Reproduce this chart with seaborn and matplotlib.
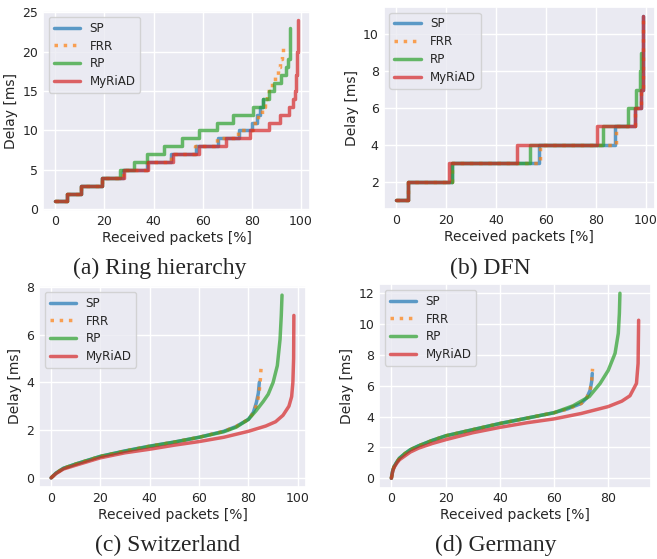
import matplotlib
matplotlib.use("Agg")
import matplotlib.pyplot as plt
import seaborn as sns

W, H = 657, 559

series_names = ["SP", "FRR", "RP", "MyRiAD"]
series_colors = ["#1f77b4", "#ff7f0e", "#2ca02c", "#d62728"]

# (a) Ring hierarchy - step curves
ring_sp_x = [0, 4.7, 10.7, 19, 27.5, 37.3, 47.2, 57.4, 66.4, 74.8, 80.2, 81.9, 83.2, 84.6]
ring_sp_y = [1, 2, 3, 4, 5, 6, 7, 8, 9, 10, 11, 12, 13, 14]
ring_frr_x = [0, 4.7, 10.7, 19, 27.5, 37.3, 47.2, 56.8, 66.0, 74.5, 80.5, 82.5, 84.3, 85.2, 86.0,
              88.0, 89.5, 90.8, 91.6, 92.1, 92.5]
ring_frr_y = [1, 2, 3, 4, 5, 6, 7, 8, 9, 10, 11, 12, 13, 14, 15, 16, 17, 18, 19, 20, 21]
ring_rp_x = [0, 4.7, 10.7, 19, 26.2, 32.2, 37.2, 44.3, 51.7, 58.7, 65.8, 72.5, 80.5, 84.5, 87,
             89, 92, 93.7, 94.6, 95.3]
ring_rp_y = [1, 2, 3, 4, 5, 6, 7, 8, 9, 10, 11, 12, 13, 14, 15, 16, 17, 18, 19, 23]
ring_my_x = [0, 4.7, 10.7, 19, 28, 37.6, 48, 58.7, 69.5, 79.2, 87, 91.3, 95, 96.6, 97.7, 98.1,
             98.4, 98.7]
ring_my_y = [1, 2, 3, 4, 5, 6, 7, 8, 9, 10, 11, 12, 13, 14, 15, 17, 20, 24]

# (b) DFN - step curves
dfn_sp_x = [0, 4.7, 22.4, 57.3, 87.5, 95.5, 98.0, 98.7]
dfn_sp_y = [1, 2, 3, 4, 5, 6, 7, 11]
dfn_frr_x = [0, 4.7, 22.4, 57.7, 88.1, 95.5, 98.0, 98.7]
dfn_frr_y = [1, 2, 3, 4, 5, 6, 7, 11]
dfn_rp_x = [0, 4.7, 22.4, 53.5, 82.8, 92.8, 96.1, 97.5, 98.1]
dfn_rp_y = [1, 2, 3, 4, 5, 6, 7, 8, 9]
dfn_my_x = [0, 4.7, 21.1, 48.4, 80.4, 95.5, 98.0, 98.7]
dfn_my_y = [1, 2, 3, 4, 5, 6, 7, 11]

# (c) Switzerland
ch_sp_x = [0, 2, 5, 10, 20, 30, 40, 50, 60, 70, 75, 80, 82, 83.2, 84, 84.4]
ch_sp_y = [0, 0.2, 0.4, 0.58, 0.9, 1.13, 1.33, 1.5, 1.7, 1.95, 2.15, 2.45, 2.75, 3.15, 3.55, 4.0]
ch_frr_x = [0, 2, 5, 10, 20, 30, 40, 50, 60, 70, 75, 80, 82, 83.5, 84.3, 84.8, 85.1]
ch_frr_y = [0, 0.2, 0.4, 0.58, 0.9, 1.13, 1.33, 1.5, 1.7, 1.95, 2.15, 2.45, 2.72, 3.1, 3.55, 4.1, 4.6]
ch_rp_x = [0, 2, 5, 10, 20, 30, 40, 50, 60, 70, 75, 80, 83, 86, 88, 90, 91.7, 92.8, 93.3, 93.6]
ch_rp_y = [0, 0.2, 0.4, 0.58, 0.9, 1.12, 1.32, 1.5, 1.7, 1.93, 2.12, 2.45, 2.8, 3.2, 3.5, 4.0,
           4.7, 5.8, 6.8, 7.65]
ch_my_x = [0, 2, 5, 10, 20, 30, 40, 50, 60, 70, 80, 87, 91, 94, 96.4, 97.5, 98, 98.3, 98.4]
ch_my_y = [0, 0.18, 0.37, 0.53, 0.84, 1.05, 1.2, 1.37, 1.52, 1.7, 1.95, 2.17, 2.35, 2.62, 3.0,
           3.4, 4.0, 5.0, 6.8]

# (d) Germany
de_sp_x = [0, 0.5, 1, 2, 3, 5, 7, 10, 15, 20, 30, 40, 50, 60, 65, 70, 72, 73.3, 73.9, 74.1]
de_sp_y = [0, 0.5, 0.75, 1.05, 1.3, 1.6, 1.85, 2.1, 2.45, 2.75, 3.15, 3.55, 3.9, 4.25, 4.5,
           4.85, 5.2, 5.7, 6.3, 6.8]
de_frr_x = [0, 0.5, 1, 2, 3, 5, 7, 10, 15, 20, 30, 40, 50, 60, 65, 70, 72, 73.3, 73.9, 74.2]
de_frr_y = [0, 0.5, 0.75, 1.05, 1.3, 1.6, 1.85, 2.1, 2.45, 2.75, 3.15, 3.55, 3.9, 4.25, 4.5,
            4.85, 5.2, 5.7, 6.4, 7.1]
de_rp_x = [0, 0.5, 1, 2, 3, 5, 7, 10, 15, 20, 30, 40, 50, 60, 67, 73, 77, 80, 82.5, 83.7,
           84.1, 84.3]
de_rp_y = [0, 0.5, 0.75, 1.05, 1.3, 1.6, 1.85, 2.1, 2.45, 2.75, 3.15, 3.55, 3.9, 4.25, 4.7,
           5.3, 6.15, 7.0, 8.1, 9.4, 10.7, 12]
de_my_x = [0, 0.5, 1, 2, 3, 5, 7, 10, 15, 20, 30, 40, 50, 60, 70, 80, 85, 88, 90.4, 91, 91.2]
de_my_y = [0, 0.45, 0.7, 0.98, 1.2, 1.45, 1.7, 1.95, 2.25, 2.5, 2.95, 3.3, 3.6, 3.85, 4.2,
           4.65, 5.0, 5.35, 6.15, 7.45, 10.25]

captions = ["(a) Ring hierarchy", "(b) DFN", "(c) Switzerland", "(d) Germany"]


def px_rect(left, top, right, bottom):
    """ convert a pixel box into a figure rect """
    return [left / W, 1 - bottom / H, (right - left) / W, (bottom - top) / H]


def draw_panel(ax, curves, steps):
    """ draw the four delay curves of one topology
    :param ax: axes
    :param curves: list of (x, y) per series
    :param steps: draw as step function
    """
    for name, color, (x, y) in zip(series_names, series_colors, curves):
        kws = dict(color=color, lw=2.5, alpha=0.7, label=name)
        if steps:
            kws["drawstyle"] = "steps-post"
        if name == "FRR":
            kws["linestyle"] = ":"
        sns.lineplot(x=x, y=y, ax=ax, estimator=None, sort=False, **kws)
    ax.set_xlabel("Received packets [%]", labelpad=2)
    ax.set_ylabel("Delay [ms]", labelpad=3)
    ax.legend(loc="upper left", labelspacing=0.4, handlelength=2.2)


sns.set_theme(style="darkgrid", rc={
    "xtick.labelsize": 9.0, "ytick.labelsize": 9.0,
    "axes.labelsize": 10.0, "legend.fontsize": 8.6,
    "xtick.major.size": 0, "ytick.major.size": 0,
    "xtick.major.pad": 3.5, "ytick.major.pad": 3.5,
})
plt.rcParams["font.family"] = ["DejaVu Sans"]

fig = plt.figure(figsize=(W / 100, H / 100), dpi=100)

panels = [
    (px_rect(43, 11, 310, 210.5), [(ring_sp_x, ring_sp_y), (ring_frr_x, ring_frr_y),
                                   (ring_rp_x, ring_rp_y), (ring_my_x, ring_my_y)], True),
    (px_rect(383.5, 6.7, 655, 209.3), [(dfn_sp_x, dfn_sp_y), (dfn_frr_x, dfn_frr_y),
                                       (dfn_rp_x, dfn_rp_y), (dfn_my_x, dfn_my_y)], True),
    (px_rect(39, 286, 306, 487), [(ch_sp_x, ch_sp_y), (ch_frr_x, ch_frr_y),
                                  (ch_rp_x, ch_rp_y), (ch_my_x, ch_my_y)], False),
    (px_rect(379, 284, 651, 487.5), [(de_sp_x, de_sp_y), (de_frr_x, de_frr_y),
                                     (de_rp_x, de_rp_y), (de_my_x, de_my_y)], False),
]

for rect, curves, steps in panels:
    ax = fig.add_axes(rect)
    draw_panel(ax, curves, steps)

caption_pos = [(160, 268), (490, 268), (168, 545), (496, 545)]
for text, (cx, cy) in zip(captions, caption_pos):
    fig.text(cx / W, 1 - cy / H, text, ha="center", va="center",
             fontsize=17, family=["Liberation Serif", "DejaVu Serif"])

fig.savefig("out.png", dpi=100)
